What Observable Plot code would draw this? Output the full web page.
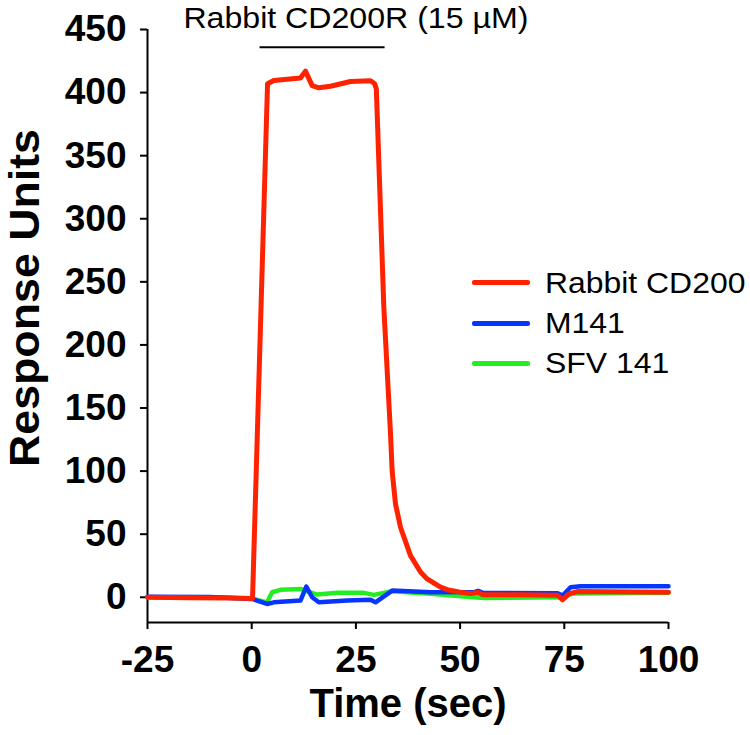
<!DOCTYPE html>
<html><head><meta charset="utf-8">
<script src="https://cdn.jsdelivr.net/npm/d3@7"></script>
<script src="https://cdn.jsdelivr.net/npm/@observablehq/plot@0.6"></script>
<style>
body{margin:0;background:#fff;}
#chart{position:relative;width:750px;height:735px;font-family:"Liberation Sans",Arial,Helvetica,sans-serif;}
#legend{position:absolute;left:0;top:0;}
.lg{position:absolute;left:472px;width:58px;height:4.5px;border-radius:2px;}
.lt{position:absolute;left:545px;font-size:29px;line-height:30px;color:#000;white-space:nowrap;transform:scaleX(1.1);transform-origin:left center;}
</style></head><body><div id="chart"></div>
<script>
// axes
const xDomain = [-25, 100];
const yDomain = [-20, 450];
const xTicks = [-25, 0, 25, 50, 75, 100];
const yTicks = [0, 50, 100, 150, 200, 250, 300, 350, 400, 450];

// series
const seriesNames = ["Rabbit CD200", "M141", "SFV 141"];
const seriesColors = ["#ff2200", "#0535ff", "#22ee22"];

const cd200Time = [-25, -15, -5, 0.2, 3.8, 5.3, 11.7, 12.9, 14.5, 16.1, 18.9, 23.7, 28.5, 29.5, 29.9, 31.7, 33.3, 33.7, 34.5, 35.7, 38.1, 40.5, 42.1, 45.3, 46.9, 50.9, 52.5, 54.3, 55.5, 64.6, 73.4, 74.6, 76.1, 78.1, 100];
const cd200RU   = [0, -0.3, -0.5, -1, 407, 409.5, 411.5, 417, 405.5, 403.8, 405, 408.8, 409.4, 407, 403, 230, 130, 100, 74, 55.5, 33, 20, 14.5, 8, 6, 3.5, 3, 3.8, 2, 2, 1.5, -2, 2.7, 4.5, 4];

const m141Time = [-25, -10, 0.1, 3.7, 5.3, 11.7, 13.1, 14.5, 16.1, 22.9, 28.5, 29.7, 33.7, 42.9, 53.5, 54.3, 55.5, 73.4, 74.6, 76.5, 78.9, 100];
const m141RU   = [0.5, 0.3, -1.3, -5.3, -4, -2.6, 8.5, 0, -4, -2.6, -2, -4, 5.3, 4, 4.2, 5, 3.5, 3.2, 1.3, 7.9, 8.7, 8.7];

const sfvTime = [-25, -10, 0.1, 3.7, 4.9, 6.9, 11.7, 13, 15.7, 20.6, 26.9, 29.3, 33.7, 42.9, 50.9, 55.7, 73.4, 75.5, 77, 100];
const sfvRU   = [0, 0, -1, -4, 4, 5.9, 6.6, 5, 2.1, 3.5, 3.5, 1.9, 4.8, 2.7, 0.6, -0.5, 0, 1, 3, 3.5];

// annotation
const titleText = "Rabbit CD200R (15 \u00b5M)";
const titleX = 25;
const injectionStart = 2;
const injectionEnd = 32;
const injectionRU = 436;

const toRows = (ts, vs, name) => ts.map((t, i) => ({t, ru: vs[i], name}));
const cd200 = toRows(cd200Time, cd200RU, seriesNames[0]);
const m141 = toRows(m141Time, m141RU, seriesNames[1]);
const sfv = toRows(sfvTime, sfvRU, seriesNames[2]);

const fmt = d => String(d);

const chart = Plot.plot({
  width: 750,
  height: 735,
  marginLeft: 147,
  marginRight: 82,
  marginTop: 29,
  marginBottom: 113,
  style: {fontFamily: "'Liberation Sans', Arial, Helvetica, sans-serif", color: "#000", background: "#fff"},
  x: {domain: xDomain},
  y: {domain: yDomain},
  color: {domain: seriesNames, range: seriesColors},
  marks: [
    Plot.axisX({ticks: xTicks, tickFormat: fmt, tickSize: 7, tickPadding: 16, strokeWidth: 2, label: null, fontSize: 37, fontWeight: "bold"}),
    Plot.axisY({ticks: yTicks, tickFormat: fmt, tickSize: 7, tickPadding: 14, strokeWidth: 2, label: null, fontSize: 37, fontWeight: "bold"}),
    Plot.ruleX([xDomain[0]], {stroke: "#000", strokeWidth: 2}),
    Plot.ruleY([yDomain[0]], {stroke: "#000", strokeWidth: 2}),
    Plot.line(sfv, {x: "t", y: "ru", stroke: "name", strokeWidth: 4.5}),
    Plot.line(m141, {x: "t", y: "ru", stroke: "name", strokeWidth: 4.5}),
    Plot.line(cd200, {x: "t", y: "ru", stroke: "name", strokeWidth: 5}),
    Plot.ruleY([injectionRU], {x1: injectionStart, x2: injectionEnd, stroke: "#000", strokeWidth: 2}),
    Plot.text([titleText], {x: titleX, y: yDomain[1], lineAnchor: "bottom", dy: -2, fontSize: 29, fill: "#000", className: "ttl"}),
    Plot.text(["Time (sec)"], {frameAnchor: "bottom", lineAnchor: "top", dy: 66, fontSize: 40, fontWeight: "bold", fill: "#000"}),
    Plot.text(["Response Units"], {frameAnchor: "left", textAnchor: "middle", rotate: -90, dx: -122, dy: -28, fontSize: 42, fontWeight: "bold", fill: "#000", className: "ylab"})
  ]
});

const root = document.getElementById("chart");
root.appendChild(chart);

// stretch title and y label slightly to match the reference's wide lettering
d3.select(chart).selectAll(".ttl text").attr("textLength", 345).attr("lengthAdjust", "spacingAndGlyphs");
d3.select(chart).selectAll(".ylab text").attr("textLength", 338).attr("lengthAdjust", "spacingAndGlyphs");

const legend = document.createElement("div");
legend.id = "legend";
const rowY = [282.7, 323.3, 363.3];
seriesNames.forEach((n, i) => {
  const l = document.createElement("div");
  l.className = "lg";
  l.style.top = (rowY[i] - 2.25) + "px";
  l.style.background = seriesColors[i];
  const t = document.createElement("div");
  t.className = "lt";
  t.style.top = (rowY[i] - 15) + "px";
  t.textContent = n;
  legend.appendChild(l);
  legend.appendChild(t);
});
root.appendChild(legend);
</script>
</body></html>
